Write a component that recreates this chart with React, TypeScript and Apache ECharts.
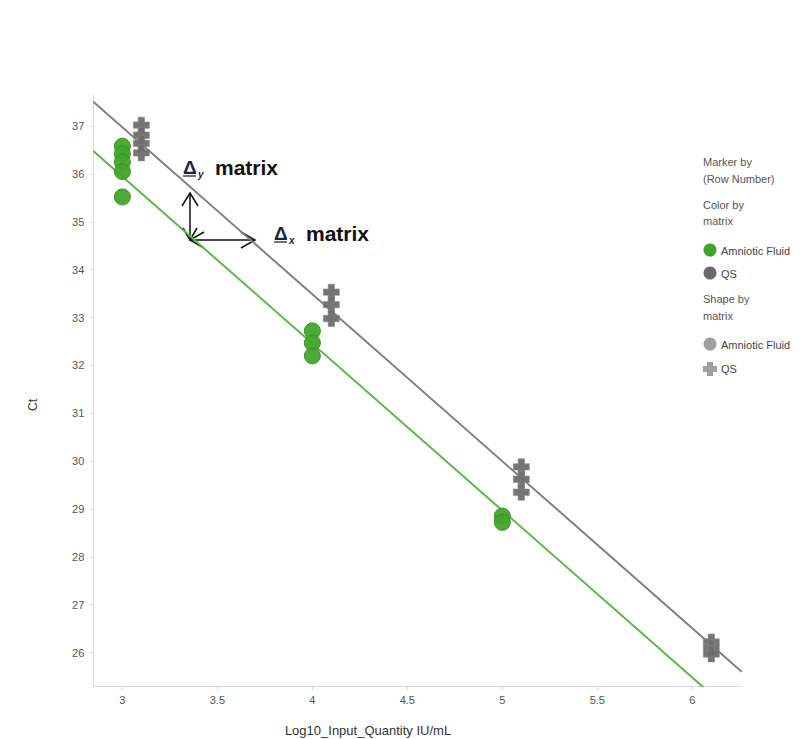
import React, { useEffect, useRef } from "react";
import * as echarts from "echarts";

const xTicks = [3, 3.5, 4, 4.5, 5, 5.5, 6];
const yTicks = [26, 27, 28, 29, 30, 31, 32, 33, 34, 35, 36, 37];

const amnioticX = [3, 3, 3, 3, 3, 4, 4, 4, 5, 5];
const amnioticCt = [36.58, 36.42, 36.25, 36.05, 35.52, 32.72, 32.47, 32.2, 28.85, 28.72];

const qsX = [3.1, 3.1, 3.1, 3.1, 4.1, 4.1, 4.1, 5.1, 5.1, 5.1, 6.1, 6.1, 6.1];
const qsCt = [37.02, 36.81, 36.64, 36.44, 33.53, 33.27, 32.98, 29.88, 29.62, 29.35, 26.22, 26.1, 25.97];

// regression line end points
const qsLineX = [2.847, 6.26];
const qsLineCt = [37.51, 25.6];
const afLineX = [2.847, 6.26];
const afLineCt = [36.48, 24.57];

const xMin = 2.847;
const xMax = 6.26;
const yMin = 25.3;
const yMax = 37.65;

const FONT = "'Liberation Sans', Arial, sans-serif";
const PLUS = "path://M6,0H14V6H20V14H14V20H6V14H0V6H6Z";

export default function App() {
  const ref = useRef<HTMLDivElement>(null);
  useEffect(() => {
    if (!ref.current) return;
    const chart = echarts.init(ref.current, null, { renderer: "svg" });
    const zip = (xs: number[], ys: number[]) => xs.map((x, i) => [x, ys[i]]);
    const legendText = (text: string, x: number, y: number, fill = "#555") => ({
      type: "text",
      x,
      y,
      style: { text, fill, font: `11px ${FONT}`, textVerticalAlign: "middle" },
    });
    const line = (x1: number, y1: number, x2: number, y2: number) => ({
      type: "line",
      shape: { x1, y1, x2, y2 },
      style: { stroke: "#111", lineWidth: 1.5 },
    });
    const head = (pts: number[][]) => ({
      type: "polyline",
      shape: { points: pts },
      style: { stroke: "#111", lineWidth: 1.5, fill: null },
    });
    const delta = (x: number, y: number, sub: string) => [
      {
        type: "text",
        x,
        y,
        style: { text: "Δ", fill: "#1c2440", font: `bold 19px ${FONT}`, textVerticalAlign: "middle" },
      },
      {
        type: "line",
        shape: { x1: x, y1: y + 9, x2: x + 13, y2: y + 9 },
        style: { stroke: "#1c2440", lineWidth: 1.3 },
      },
      {
        type: "text",
        x: x + 15,
        y: y + 7,
        style: { text: sub, fill: "#1c2440", font: `italic bold 10px ${FONT}`, textVerticalAlign: "middle" },
      },
      {
        type: "text",
        x: x + 32,
        y,
        style: { text: "matrix", fill: "#111", font: `bold 21px ${FONT}`, textVerticalAlign: "middle" },
      },
    ];

    chart.setOption({
      animation: false,
      backgroundColor: "#fff",
      grid: { left: 93.3, right: 62.3, top: 95, bottom: 53, containLabel: false },
      xAxis: {
        type: "value",
        min: xMin,
        max: xMax,
        splitLine: { show: false },
        axisLine: { show: true, lineStyle: { color: "#d9d9d9", width: 1 } },
        axisTick: { show: true, length: 4, customValues: xTicks, lineStyle: { color: "#d9d9d9" } },
        axisLabel: {
          customValues: xTicks,
          margin: 8,
          color: "#555",
          fontSize: 11,
          fontFamily: FONT,
          formatter: (v: number) => String(v),
        },
      },
      yAxis: {
        type: "value",
        min: yMin,
        max: yMax,
        splitLine: { show: false },
        axisLine: { show: true, lineStyle: { color: "#d9d9d9", width: 1 } },
        axisTick: { show: true, length: 4, customValues: yTicks, lineStyle: { color: "#d9d9d9" } },
        axisLabel: {
          customValues: yTicks,
          margin: 9,
          color: "#555",
          fontSize: 11,
          fontFamily: FONT,
          formatter: (v: number) => String(v),
        },
      },
      series: [
        {
          name: "QS fit",
          type: "line",
          data: zip(qsLineX, qsLineCt),
          symbol: "none",
          clip: true,
          lineStyle: { color: "#808080", width: 2 },
          z: 1,
        },
        {
          name: "Amniotic Fluid fit",
          type: "line",
          data: zip(afLineX, afLineCt),
          symbol: "none",
          clip: true,
          lineStyle: { color: "#5ab946", width: 2 },
          z: 1,
        },
        {
          name: "Amniotic Fluid",
          type: "scatter",
          data: zip(amnioticX, amnioticCt),
          symbol: "circle",
          symbolSize: 16,
          itemStyle: { color: "#43a52b", borderColor: "#358f22", borderWidth: 1, opacity: 0.95 },
          z: 3,
        },
        {
          name: "QS",
          type: "scatter",
          data: zip(qsX, qsCt),
          symbol: PLUS,
          symbolSize: 16,
          itemStyle: { color: "#6e6e6e", borderColor: "#8a8a8a", borderWidth: 0.6, opacity: 0.95 },
          z: 3,
        },
      ],
      graphic: [
        // axis titles
        {
          type: "text",
          x: 33,
          y: 405,
          rotation: Math.PI / 2,
          style: { text: "Ct", fill: "#333", font: `12px ${FONT}`, textAlign: "center", textVerticalAlign: "middle" },
        },
        {
          type: "text",
          x: 368,
          y: 730,
          style: {
            text: "Log10_Input_Quantity IU/mL",
            fill: "#333",
            font: `13px ${FONT}`,
            textAlign: "center",
            textVerticalAlign: "middle",
          },
        },
        // annotations
        ...delta(183, 167, "y"),
        ...delta(274, 233, "x"),
        line(190, 240, 190, 193),
        head([[182, 206], [190, 193], [198, 206]]),
        head([[183, 228], [190, 240], [197, 228]]),
        line(190, 240, 255, 240),
        head([[241, 232], [255, 240], [241, 248]]),
        head([[204, 232], [190, 240], [204, 248]]),
        // legend
        legendText("Marker by", 703, 162),
        legendText("(Row Number)", 703, 179),
        legendText("Color by", 703, 205),
        legendText("matrix", 703, 221),
        { type: "circle", shape: { cx: 710, cy: 250, r: 6.5 }, style: { fill: "#3fa52a" } },
        legendText("Amniotic Fluid", 721, 251, "#444"),
        { type: "circle", shape: { cx: 710, cy: 273, r: 6.5 }, style: { fill: "#6a6a6a" } },
        legendText("QS", 721, 274, "#444"),
        legendText("Shape by", 703, 299),
        legendText("matrix", 703, 316),
        { type: "circle", shape: { cx: 710, cy: 344, r: 6.5 }, style: { fill: "#a0a0a0" } },
        legendText("Amniotic Fluid", 721, 345, "#444"),
        {
          type: "polygon",
          shape: {
            points: [
              [707, 362], [713, 362], [713, 366], [717, 366], [717, 372], [713, 372],
              [713, 376], [707, 376], [707, 372], [703, 372], [703, 366], [707, 366],
            ],
          },
          style: { fill: "#a0a0a0" },
        },
        legendText("QS", 721, 369, "#444"),
      ],
    });
    return () => chart.dispose();
  }, []);
  return (
    <div
      ref={ref}
      style={{ position: "absolute", left: 0, top: 0, width: 804, height: 739, overflow: "hidden" }}
    />
  );
}
